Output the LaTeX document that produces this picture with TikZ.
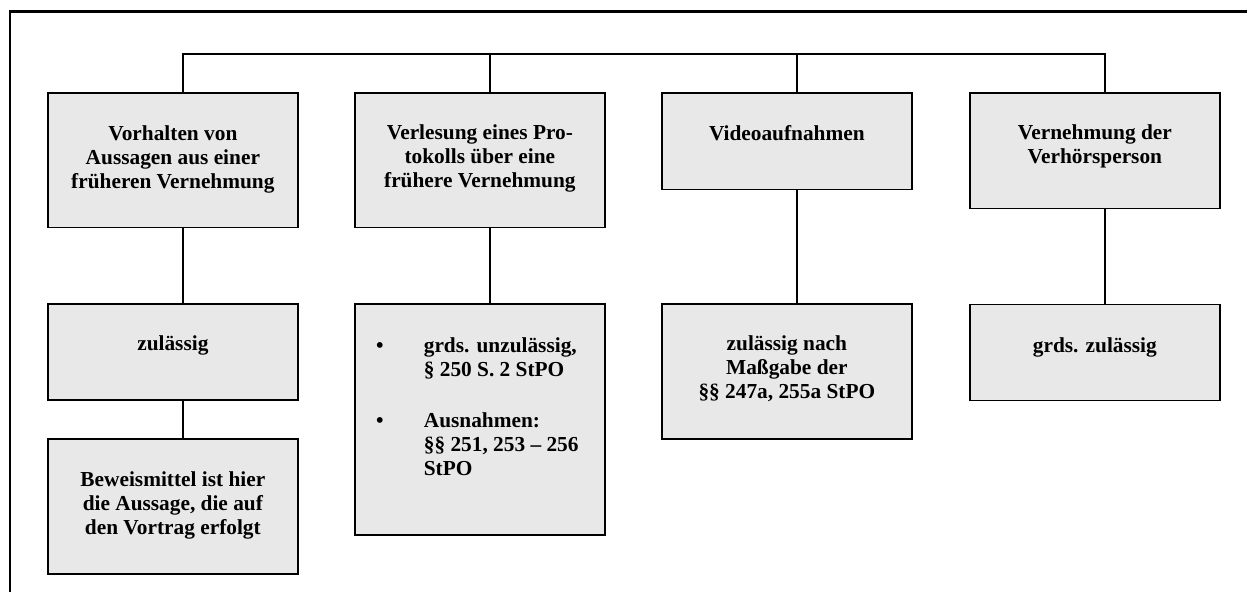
\documentclass[tikz,border=0pt]{standalone}
\usepackage{fontspec}
\setmainfont{Liberation Serif}
\definecolor{boxgray}{RGB}{232,232,232}
\newlength\pxu
\setlength\pxu{0.75pt}
% box content: height, first-baseline offset, text (top aligned, centred)
\newcommand\boxtext[3]{\parbox[c][#1\pxu][t]{250\pxu}{\centering\rule{0pt}{#2\pxu}#3}}
\tikzset{
  stage/.style={draw=black, line width=1.3pt, fill=boxgray, inner sep=0pt,
    anchor=north west, font=\bfseries\fontsize{16pt}{18pt}\selectfont},
  link/.style={line width=1.3pt},
  frame/.style={line width=1.6pt},
}
\begin{document}
\begin{tikzpicture}[x=0.75pt, y=-0.75pt]
\useasboundingbox (0,0) rectangle (1247,592);

% outer frame (top and left edge)
\coordinate (fl) at (10,592);
\coordinate (fc) at (10,11.5);
\coordinate (fr) at (1247,11.5);
\draw[frame] (fl) -- (fc) -- (fr);

% first row
\node[stage] (b1) at (47,92.5) {\boxtext{134}{47}{Vorhalten von\\Aussagen aus einer\\früheren Vernehmung}};
\node[stage] (b2) at (354,92.5) {\boxtext{134}{46}{Verlesung eines Pro-\\tokolls über eine\\frühere Vernehmung}};
\node[stage] (b3) at (661,92.5) {\boxtext{96}{47}{Videoaufnahmen}};
\node[stage] (b4) at (969,92.5) {\boxtext{115}{46}{Vernehmung der\\Verhörsperson}};

% second row
\node[stage] (b1b) at (47,303) {\boxtext{96}{47}{zulässig}};
\node[stage] (b2b) at (354,303) {\parbox[c][231\pxu][t]{250\pxu}{\raggedright
  \rule{0pt}{49\pxu}\hspace*{22\pxu}\makebox[6\pxu]{\textbullet}\hspace*{41\pxu}grds. unzulässig,\\
  \hspace*{69\pxu}§ 250 S. 2 StPO\\[27\pxu]
  \hspace*{22\pxu}\makebox[6\pxu]{\textbullet}\hspace*{41\pxu}Ausnahmen:\\
  \hspace*{69\pxu}§§ 251, 253 – 256\\
  \hspace*{69\pxu}StPO}};
\node[stage] (b3b) at (661,303) {\boxtext{135}{47}{zulässig nach\\Maßgabe der\\§§ 247a, 255a StPO}};
\node[stage] (b4b) at (969,303.5) {\boxtext{96}{48}{grds. zulässig}};

% third row
\node[stage] (b1c) at (47,438) {\boxtext{135}{48}{Beweismittel ist hier\\die Aussage, die auf\\den Vortrag erfolgt}};

% connector attachment points
\coordinate (bar) at (0,54);
\foreach \n in {b1,b2,b3,b4,b1b,b1c,b2b,b3b,b4b}{
  \coordinate (\n n) at ([xshift=7.5pt]\n.north);
  \coordinate (\n s) at ([xshift=7.5pt]\n.south);
}

% top bar with drops
\draw[link] (b1n) -- (b1n |- bar) -- (b4n |- bar) -- (b4n);
\draw[link] (b2n) -- (b2n |- bar);
\draw[link] (b3n) -- (b3n |- bar);

% vertical links between rows
\draw[link] (b1s) -- (b1bn);
\draw[link] (b1bs) -- (b1cn);
\draw[link] (b2s) -- (b2bn);
\draw[link] (b3s) -- (b3bn);
\draw[link] (b4s) -- (b4bn);
\end{tikzpicture}
\end{document}
